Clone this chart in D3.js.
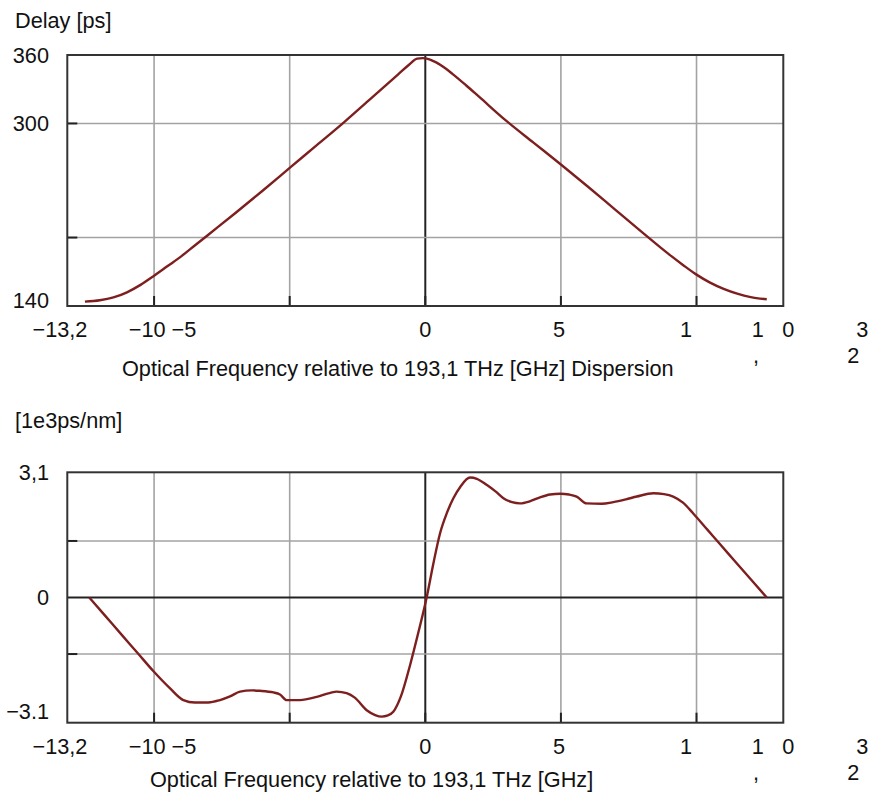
<!DOCTYPE html>
<html><head><meta charset="utf-8">
<script src="https://cdn.jsdelivr.net/npm/d3@7"></script>
<style>
body{margin:0;background:#fff}
svg text{font-family:"Liberation Sans",Arial,Helvetica,sans-serif;font-size:21.7px;fill:#111}
</style></head><body><svg id="c" width="869" height="798"></svg>
<script>
// ---- data ----
const freqDelay = [-12.55,-12,-11.5,-11,-10.5,-10,-9.5,-9,-8.5,-8,-7,-6,-5,-4,-3,-2,-1,-0.6,-0.3,-0.1,0.15,0.4,0.7,1,1.5,2,3,4,5,6,7,8,9,9.5,10,10.5,11,11.5,12,12.59];
const delayPs   = [143.8,145,147.5,152,158.5,166.5,175,183.5,193,202.5,221.5,241,261,281,301,322,343,351.5,356.8,357.3,356.2,353.5,349,343.5,333.5,323,302,283,264,244.5,224.5,204.5,185,176,167.5,160.5,155,150.8,147.8,145.9];

const freqDisp = [-12.39,-11.8,-11.2,-10.6,-10.03,-9.41,-8.92,-8.5,-8.0,-7.57,-7.2,-6.83,-6.4,-6.1,-5.6,-5.36,-5.11,-4.62,-4.0,-3.5,-3.27,-2.9,-2.6,-2.16,-1.85,-1.61,-1.38,-1.18,-0.9,-0.56,-0.25,0.05,0.3,0.54,0.8,1.03,1.3,1.65,1.9,2.26,2.6,2.88,3.2,3.49,3.85,4.23,4.6,4.97,5.3,5.58,5.95,6.5,6.93,7.4,7.8,8.41,8.8,9.14,9.5,9.88,10.4,10.87,11.4,12.0,12.59];
const dispersion = [0,-0.455,-0.92,-1.38,-1.82,-2.25,-2.54,-2.6,-2.6,-2.54,-2.45,-2.33,-2.3,-2.31,-2.35,-2.4,-2.54,-2.54,-2.46,-2.36,-2.33,-2.37,-2.48,-2.79,-2.91,-2.95,-2.92,-2.83,-2.45,-1.67,-0.85,0,0.85,1.58,2.1,2.45,2.75,2.97,2.94,2.79,2.62,2.46,2.36,2.33,2.38,2.48,2.55,2.57,2.55,2.5,2.33,2.32,2.36,2.43,2.5,2.58,2.56,2.5,2.35,2.08,1.68,1.32,0.91,0.45,0];

const xDomain = [-13.2, 13.2];
const xGrid = [-10, -5, 0, 5, 10];
const delayDomain = [140, 360];
const delayGrid = [200, 300];
const dispDomain = [-3.1, 3.1];
const dispGrid = [-1.4, 1.4];

const xTickText = ["−13,2", "−10 −5", "0", "5", "1", "1", "0", "3"];
const xTickAt   = [-13.47, -9.69, 0, 4.93, 9.61, 12.26, 13.38, 16.11];
const xSubText  = [",", "2"];
const xSubAt    = [12.19, 15.78];

const delayTickText = ["360", "300", "140"];
const delayTickAt   = [360, 300, 145];
const dispTickText  = ["3,1", "0", "−3.1"];
const dispTickAt    = [3.1, 0, -2.82];

const delayUnit = "Delay [ps]";
const dispUnit = "[1e3ps/nm]";
const titleTop = "Optical Frequency relative to 193,1 THz [GHz] Dispersion";
const titleBottom = "Optical Frequency relative to 193,1 THz [GHz]";

// ---- drawing ----
const svg = d3.select("#c");
const X0 = 67.3, X1 = 783.3;
const x = d3.scaleLinear().domain(xDomain).range([X0, X1]);
const lineColor = "#7e1f1f";

function panel(cfg){
  const y = d3.scaleLinear().domain(cfg.domain).range([cfg.bottom, cfg.top]);
  const g = svg.append("g");
  g.selectAll(".vg").data(xGrid).join("line")
    .attr("x1", d=>x(d)).attr("x2", d=>x(d)).attr("y1", cfg.top).attr("y2", cfg.bottom)
    .attr("stroke", d=> d===0 ? "#222" : "#a3a3a3").attr("stroke-width", d=> d===0 ? 2 : 1.6);
  g.selectAll(".hg").data(cfg.grid).join("line")
    .attr("x1", X0).attr("x2", X1).attr("y1", d=>y(d)).attr("y2", d=>y(d))
    .attr("stroke", "#a3a3a3").attr("stroke-width", 1.6);
  if (cfg.zeroLine) {
    g.append("line").attr("x1", X0).attr("x2", X1).attr("y1", y(0)).attr("y2", y(0))
      .attr("stroke", "#222").attr("stroke-width", 2);
  }
  g.selectAll(".lt").data(cfg.grid).join("line")
    .attr("x1", X0).attr("x2", X0 + 10).attr("y1", d=>y(d)).attr("y2", d=>y(d))
    .attr("stroke", "#222").attr("stroke-width", 2);
  g.selectAll(".bt").data(xGrid).join("line")
    .attr("x1", d=>x(d)).attr("x2", d=>x(d)).attr("y1", cfg.bottom).attr("y2", cfg.bottom - 10)
    .attr("stroke", "#222").attr("stroke-width", 2);
  g.append("rect").attr("x", X0).attr("y", cfg.top).attr("width", X1 - X0).attr("height", cfg.bottom - cfg.top)
    .attr("fill", "none").attr("stroke", "#333").attr("stroke-width", 2);
  const line = d3.line().x((d,i)=>x(cfg.xs[i])).y(d=>y(d)).curve(d3.curveMonotoneX);
  g.append("path").datum(cfg.ys).attr("d", line).attr("fill", "none")
    .attr("stroke", lineColor).attr("stroke-width", 2.4);
  g.selectAll(".yl").data(cfg.yText).join("text")
    .attr("x", 49).attr("y", (d,i)=>y(cfg.yAt[i])).attr("dy", "0.36em")
    .attr("text-anchor", "end").text(d=>d);
  g.selectAll(".xl").data(xTickText).join("text")
    .attr("x", (d,i)=>x(xTickAt[i])).attr("y", cfg.bottom + 31)
    .attr("text-anchor", "middle").text(d=>d);
  g.selectAll(".xs").data(xSubText).join("text")
    .attr("x", (d,i)=>x(xSubAt[i])).attr("y", cfg.bottom + 57)
    .attr("text-anchor", "middle").text(d=>d);
  g.append("text").attr("x", cfg.titleX).attr("y", cfg.titleY).text(cfg.title);
  g.append("text").attr("x", 15).attr("y", cfg.unitY).text(cfg.unit);
}

panel({domain: delayDomain, top: 55, bottom: 306, grid: delayGrid, zeroLine: false,
  xs: freqDelay, ys: delayPs, yText: delayTickText, yAt: delayTickAt,
  title: titleTop, titleX: 122, titleY: 376, unit: delayUnit, unitY: 28});
panel({domain: dispDomain, top: 472.3, bottom: 722.7, grid: dispGrid, zeroLine: true,
  xs: freqDisp, ys: dispersion, yText: dispTickText, yAt: dispTickAt,
  title: titleBottom, titleX: 150, titleY: 787, unit: dispUnit, unitY: 428});
</script></body></html>
